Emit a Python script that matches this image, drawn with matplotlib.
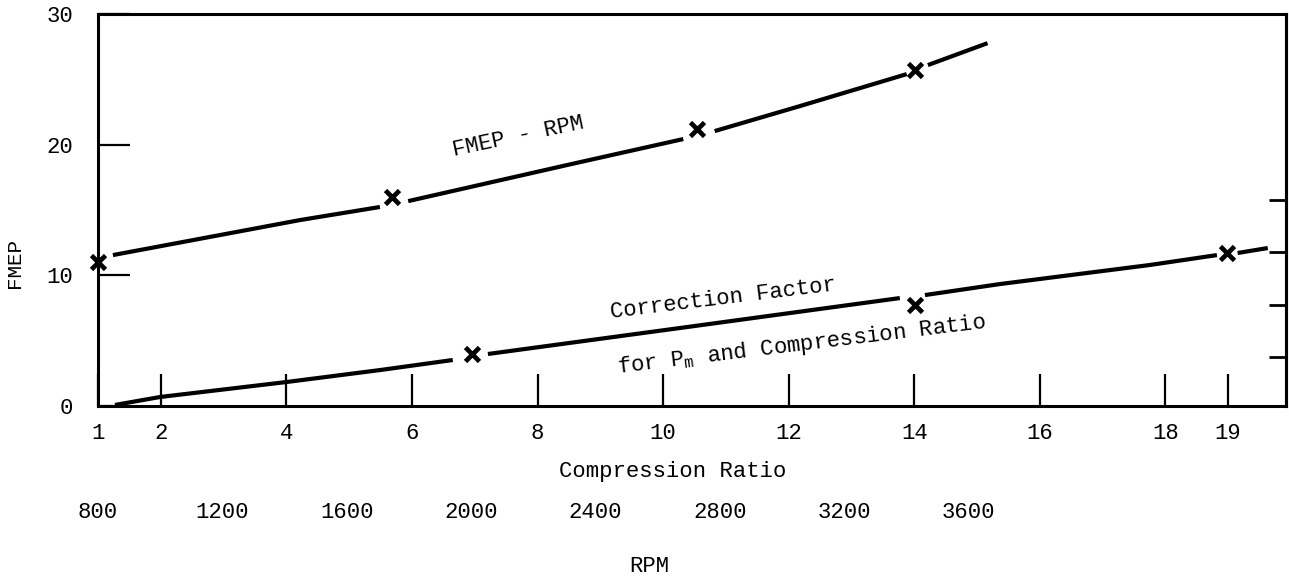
import matplotlib
matplotlib.use("Agg")
import matplotlib.pyplot as plt

# ---- data -------------------------------------------------------------
# FMEP vs engine speed (RPM), drawn as broken line segments around the points
fmep_rpm_seg1 = [848, 1450, 1707]
fmep_val_seg1 = [11.55, 14.23, 15.23]
fmep_rpm_seg2 = [1798, 2309, 2683]
fmep_val_seg2 = [15.68, 18.44, 20.43]
fmep_rpm_seg3 = [2784, 3058, 3402]
fmep_val_seg3 = [21.04, 22.95, 25.40]
fmep_rpm_seg4 = [3470, 3662]
fmep_val_seg4 = [26.09, 27.77]
fmep_pts_rpm = [800, 1745, 2727, 3428]
fmep_pts_val = [11.0, 16.0, 21.2, 25.7]

# Correction factor vs compression ratio
corr_cr_seg1 = [1.27, 1.99, 4.01, 5.49, 6.65]
corr_val_seg1 = [0.08, 0.69, 1.84, 2.75, 3.52]
corr_cr_seg2 = [7.21, 10.27, 13.77]
corr_val_seg2 = [3.98, 5.97, 8.26]
corr_cr_seg3 = [14.17, 15.36, 17.75, 18.82]
corr_val_seg3 = [8.49, 9.33, 10.79, 11.55]
corr_cr_seg4 = [19.15, 19.63]
corr_val_seg4 = [11.71, 12.09]
corr_pts_cr = [6.96, 14.01, 18.98]
corr_pts_val = [4.0, 7.7, 11.7]

cr_ticks = [1, 2, 4, 6, 8, 10, 12, 14, 16, 18, 19]
rpm_ticks = [800, 1200, 1600, 2000, 2400, 2800, 3200, 3600]
fmep_ticks = [0, 10, 20, 30]
right_ticks = [3.75, 7.75, 11.75, 15.75]

# RPM scale laid along the compression-ratio axis
CR_AT_800 = 1.0
CR_PER_400RPM = 1.98


def rpm_to_cr(r):
    return CR_AT_800 + (r - 800) / 400.0 * CR_PER_400RPM


def cr_to_rpm(c):
    return 800 + (c - CR_AT_800) * 400.0 / CR_PER_400RPM


# ---- style ------------------------------------------------------------
FONT = "Liberation Mono"
plt.rcParams["font.family"] = FONT
plt.rcParams["mathtext.fontset"] = "custom"
plt.rcParams["mathtext.rm"] = FONT
plt.rcParams["mathtext.it"] = FONT

fig = plt.figure(figsize=(12.89, 5.76), dpi=100)
ax = fig.add_axes([98 / 1289, 1 - 406 / 576, 1188 / 1289, 392 / 576])
ax.set_xlim(1, 19.92)
ax.set_ylim(0, 30)

for s in ax.spines.values():
    s.set_linewidth(2.2)

LW = 3.0
line_kw = dict(color="black", lw=LW, solid_capstyle="butt")
mark_kw = dict(color="black", marker="x", ms=10, mew=3.4, ls="none", clip_on=False, zorder=5)

# FMEP - RPM curve
for xs, ys in [(fmep_rpm_seg1, fmep_val_seg1), (fmep_rpm_seg2, fmep_val_seg2),
               (fmep_rpm_seg3, fmep_val_seg3), (fmep_rpm_seg4, fmep_val_seg4)]:
    ax.plot([rpm_to_cr(v) for v in xs], ys, **line_kw)
ax.plot([rpm_to_cr(v) for v in fmep_pts_rpm], fmep_pts_val, **mark_kw)

# correction factor curve
for xs, ys in [(corr_cr_seg1, corr_val_seg1), (corr_cr_seg2, corr_val_seg2),
               (corr_cr_seg3, corr_val_seg3), (corr_cr_seg4, corr_val_seg4)]:
    ax.plot(xs, ys, **line_kw)
ax.plot(corr_pts_cr, corr_pts_val, **mark_kw)

# ---- axes ticks -------------------------------------------------------
ax.set_xticks(cr_ticks)
ax.set_xticklabels([str(t) for t in cr_ticks])
ax.set_yticks(fmep_ticks)
ax.set_yticklabels([str(t) for t in fmep_ticks])
ax.tick_params(axis="x", direction="in", length=23, width=1.6, pad=12,
               labelsize=16, top=False)
ax.tick_params(axis="y", direction="in", length=23, width=1.6, pad=18,
               labelsize=16, right=False)

ax.set_xlabel("Compression Ratio", fontsize=16)
ax.xaxis.set_label_coords(0.484, -0.168)
ax.xaxis.label.set_va("center")

ax.set_ylabel("FMEP", fontsize=15)
ax.yaxis.set_label_coords(-0.070, 0.365)
ax.yaxis.label.set_va("center")

# right-hand scale marks
ry = ax.secondary_yaxis("right")
ry.set_yticks(right_ticks)
ry.tick_params(direction="in", length=12, width=2.0, labelright=False)
ry.spines["right"].set_linewidth(2.2)

# RPM scale beneath the compression ratio scale
sx = ax.secondary_xaxis(-0.235, functions=(cr_to_rpm, rpm_to_cr))
sx.set_xticks(rpm_ticks)
sx.set_xticklabels([str(t) for t in rpm_ticks])
sx.tick_params(length=0, pad=3, labelsize=16)
sx.spines["bottom"].set_visible(False)

fig.text(649 / 1289, 1 - 567 / 576, "RPM", ha="center", va="center", fontsize=16)

# ---- curve annotations -----------------------------------------------
ax.text(7.70, 20.58, "FMEP - RPM", rotation=12, ha="center", va="center",
        fontsize=16, rotation_mode="anchor")
ax.text(10.95, 8.19, "Correction Factor", rotation=7, ha="center", va="center",
        fontsize=16, rotation_mode="anchor")
ax.text(12.21, 4.67, r"for P$_\mathrm{m}$ and Compression Ratio", rotation=7,
        ha="center", va="center", fontsize=16, rotation_mode="anchor")

fig.savefig("out.png", dpi=100)
